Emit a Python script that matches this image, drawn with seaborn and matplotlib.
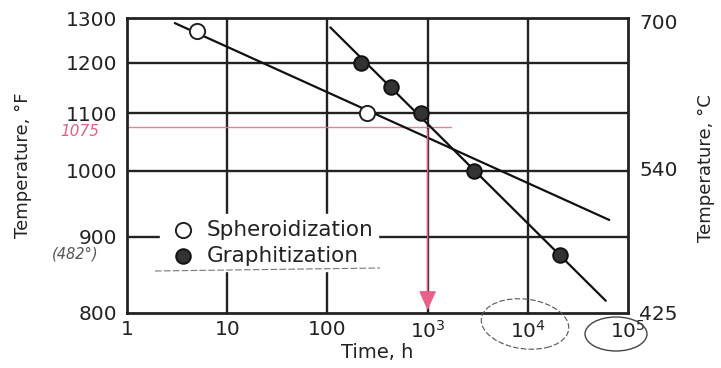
import numpy as np
import pandas as pd
import matplotlib
matplotlib.use("Agg")
import matplotlib.pyplot as plt
import seaborn as sns
from matplotlib.patches import Ellipse

# ---- data ----
sphero_time = [5, 250]
sphero_temp = [1270, 1100]
graph_time = [214, 427, 850, 2900, 21000]
graph_temp = [1200, 1150, 1100, 1000, 875]
sphero_line_time = [3.0, 65000]
sphero_line_temp = [1288, 924]
graph_line_time = [107, 60000]
graph_line_temp = [1278, 815]
yticks_f = [800, 900, 1000, 1100, 1200, 1300]
yticks_c = [425, 540, 700]
xticks = [1, 10, 100, 1000, 10000, 100000]
xtick_labels = ["1", "10", "100", "$10^3$", "$10^4$", "$10^5$"]
marked_temp = 1075
marked_time = 1000
marked_line_end = 1700

sns.set_theme(style="white")
plt.rcParams["font.family"] = ["DejaVu Sans"]

def fwd(t):
    t = np.asarray(t, dtype=float)
    return -1.0 / (t + 459.67)

def inv(v):
    v = np.asarray(v, dtype=float)
    with np.errstate(divide="ignore", invalid="ignore"):
        return -1.0 / v - 459.67

fig = plt.figure(figsize=(7.21, 3.68), dpi=100)
ax = fig.add_axes([127 / 721, 1 - 313 / 368, 501 / 721, 295 / 368])
ax.set_xscale("log")
ax.set_yscale("function", functions=(fwd, inv))
ax.set_xlim(1, 100000)
ax.set_ylim(800, 1300)

# grid
for x in xticks[1:-1]:
    ax.axvline(x, color="#222222", lw=1.7, zorder=1)
for y in yticks_f[1:-1]:
    ax.axhline(y, color="#222222", lw=1.7, zorder=1)

line_df = pd.DataFrame({
    "time": sphero_line_time + graph_line_time,
    "temp": sphero_line_temp + graph_line_temp,
    "series": ["S"] * 2 + ["G"] * 2,
})
sns.lineplot(data=line_df, x="time", y="temp", units="series", estimator=None,
             color="#111111", lw=1.6, ax=ax, legend=False, zorder=3)

sph_df = pd.DataFrame({"time": sphero_time, "temp": sphero_temp})
gra_df = pd.DataFrame({"time": graph_time, "temp": graph_temp})
sns.scatterplot(data=sph_df, x="time", y="temp", s=120, facecolor="white",
                edgecolor="#222222", linewidth=1.4, ax=ax, zorder=4,
                label="Spheroidization")
sns.scatterplot(data=gra_df, x="time", y="temp", s=110, facecolor="#333333",
                edgecolor="#111111", linewidth=1.4, ax=ax, zorder=4,
                label="Graphitization")

# handwritten pink marks
ax.plot([1, marked_line_end], [marked_temp, marked_temp], color="#e8708f",
        lw=1.0, alpha=0.9, zorder=2)
ax.annotate("", xy=(marked_time, 800), xytext=(marked_time, marked_temp),
            arrowprops=dict(arrowstyle="-|>,head_length=1.0,head_width=0.45",
                            color="#e8608a", lw=1.0), zorder=5)

leg = ax.legend(loc="upper left", bbox_to_anchor=(0.066, 0.335), frameon=True,
                facecolor="white", edgecolor="white", framealpha=1,
                fontsize=15.5, handletextpad=0.3, borderpad=0.25,
                labelspacing=0.3, handlelength=1.6, borderaxespad=0)
leg.set_zorder(6)
for t in leg.get_texts():
    t.set_color("#222222")

ax.set_xticks(xticks)
ax.set_xticklabels(xtick_labels)
ax.minorticks_off()
ax.set_yticks(yticks_f)
ax.set_yticklabels([str(v) for v in yticks_f])
ax.tick_params(axis="both", length=0, labelsize=14.5, labelcolor="#222222")
ax.tick_params(axis="x", pad=5)
ax.tick_params(axis="y", pad=7)
ax.set_xlabel("Time, h", fontsize=14, color="#222222", labelpad=1)
ax.set_ylabel("Temperature, °F", fontsize=13, color="#222222", labelpad=24)
for sp in ax.spines.values():
    sp.set_color("#222222")
    sp.set_linewidth(2)

ax2 = ax.twinx()
ax2.set_yscale("function", functions=(fwd, inv))
ax2.set_ylim(800, 1300)
ctof = np.clip(np.array(yticks_c) * 9 / 5 + 32, 800, 1300)
ax2.set_yticks(ctof)
ax2.set_yticklabels([str(c) for c in yticks_c])
ax2.minorticks_off()
ax2.tick_params(axis="y", length=0, labelsize=14.5, labelcolor="#222222", pad=8)
ax2.grid(False)
for sp in ax2.spines.values():
    sp.set_visible(False)
fig.text(706 / 721, 1 - 168 / 368, "Temperature, °C", rotation=90, fontsize=13,
         color="#222222", ha="center", va="center")

# other handwritten notes
fig.text(60 / 721, 1 - 131 / 368, "1075", color="#e0607f", fontsize=11,
         style="italic", ha="left", va="center")
fig.text(52 / 721, 1 - 254 / 368, "(482°)", color="#555555", fontsize=10.5,
         style="italic", ha="left", va="center")
fig.add_artist(plt.Line2D([155 / 721, 380 / 721], [1 - 271 / 368, 1 - 268 / 368],
                          color="#777777", lw=0.8, ls=(0, (6, 2))))
fig.add_artist(Ellipse((525 / 721, 1 - 324 / 368), 84 / 721, 52 / 368, angle=25,
                       fill=False, ec="#555555", lw=0.8, ls=(0, (5, 2))))
fig.add_artist(Ellipse((616 / 721, 1 - 334 / 368), 62 / 721, 34 / 368,
                       fill=False, ec="#444444", lw=1.0))

fig.savefig("out.png", dpi=100)
